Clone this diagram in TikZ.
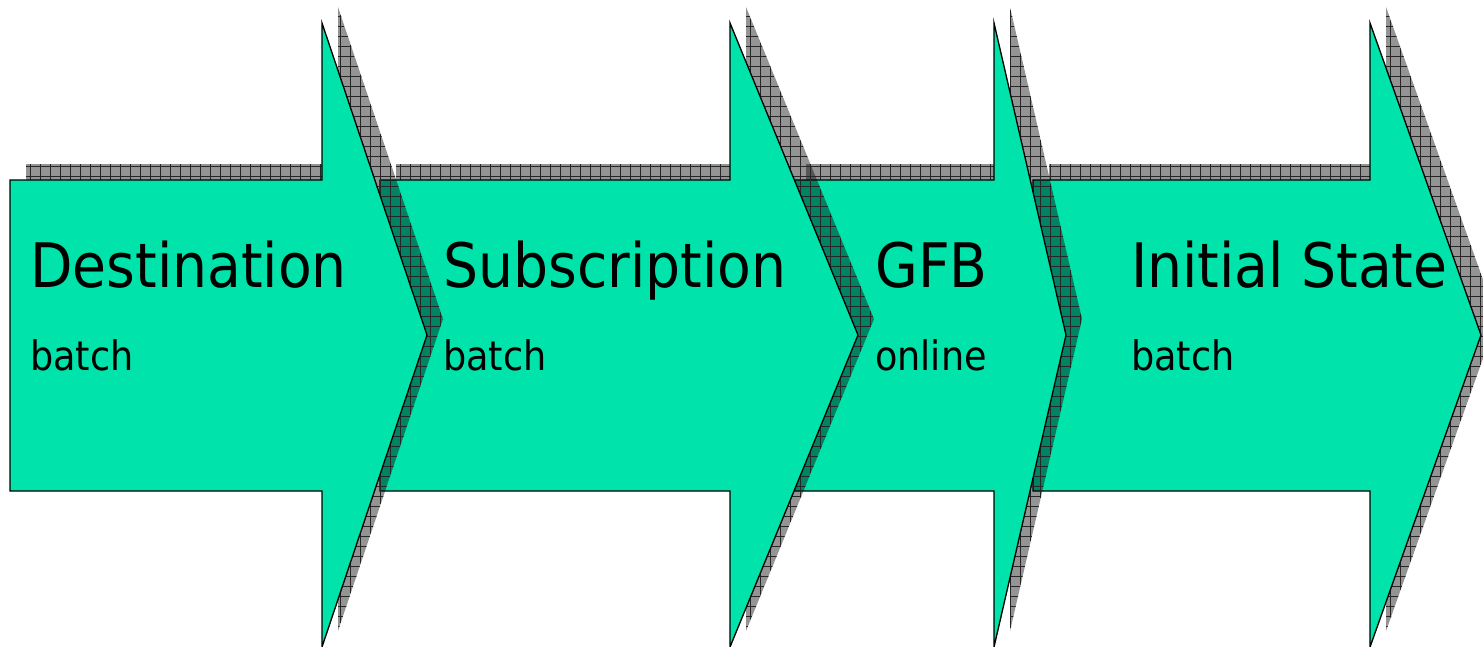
\documentclass[tikz,border=0pt]{standalone}
\usepackage{fontspec}
\setmainfont{DejaVu Sans Condensed}
\usetikzlibrary{patterns.meta}

\begin{document}
\begin{tikzpicture}[x=0.75pt,y=0.75pt,yscale=-1,xscale=1,
    stepshape/.style={draw=black, line width=1pt, fill={rgb, 255:red, 0; green, 227; blue, 170}},
    stepshadow/.style={fill=black, fill opacity=0.42, postaction={shadowgrid}},
    shadowgrid/.style={pattern={Hatch[distance=7.5pt, line width=0.4pt]}, pattern color=black!85},
    steptitle/.style={anchor=base west, inner sep=0pt, font=\fontsize{46}{55}\selectfont},
    stepmode/.style={anchor=base west, inner sep=0pt, font=\fontsize{30.5}{37}\selectfont}]
        \useasboundingbox (0,0) rectangle (1483,646);

        %Shadow: Polygon [Initial State]
        \fill [stepshadow] (1049,164) -- (1386,164) -- (1386,7) -- (1497,319) -- (1386,631) -- (1386,475) -- (1049,475) -- cycle ;
        %Shape: Polygon [Initial State]
        \draw [stepshape] (1033,180) -- (1370,180) -- (1370,23) -- (1481,335) -- (1370,647) -- (1370,491) -- (1033,491) -- cycle ;

        %Shadow: Polygon [GFB]
        \fill [stepshadow] (806,164) -- (1010,164) -- (1010,7) -- (1082,319) -- (1010,631) -- (1010,475) -- (806,475) -- cycle ;
        %Shape: Polygon [GFB]
        \draw [stepshape] (790,180) -- (994,180) -- (994,23) -- (1066,335) -- (994,647) -- (994,491) -- (790,491) -- cycle ;

        %Shadow: Polygon [Subscription]
        \fill [stepshadow] (396,164) -- (746,164) -- (746,7) -- (874,319) -- (746,631) -- (746,475) -- (396,475) -- cycle ;
        %Shape: Polygon [Subscription]
        \draw [stepshape] (380,180) -- (730,180) -- (730,23) -- (858,335) -- (730,647) -- (730,491) -- (380,491) -- cycle ;

        %Shadow: Polygon [Destination]
        \fill [stepshadow] (26,164) -- (338,164) -- (338,7) -- (443,319) -- (338,631) -- (338,475) -- (26,475) -- cycle ;
        %Shape: Polygon [Destination]
        \draw [stepshape] (10,180) -- (322,180) -- (322,23) -- (427,335) -- (322,647) -- (322,491) -- (10,491) -- cycle ;

        % Text Node
        \node [steptitle] (dest) at (30,287) {Destination};
        \node [stepmode] (destmode) at (30,370) {batch};
        % Text Node
        \node [steptitle] (subs) at (443,287) {Subscription};
        \node [stepmode] (subsmode) at (443,370) {batch};
        % Text Node
        \node [steptitle] (gfb) at (875,287) {GFB};
        \node [stepmode] (gfbmode) at (875,370) {online};
        % Text Node
        \node [steptitle] (init) at (1131,287) {Initial State};
        \node [stepmode] (initmode) at (1131,370) {batch};

\end{tikzpicture}
\end{document}
